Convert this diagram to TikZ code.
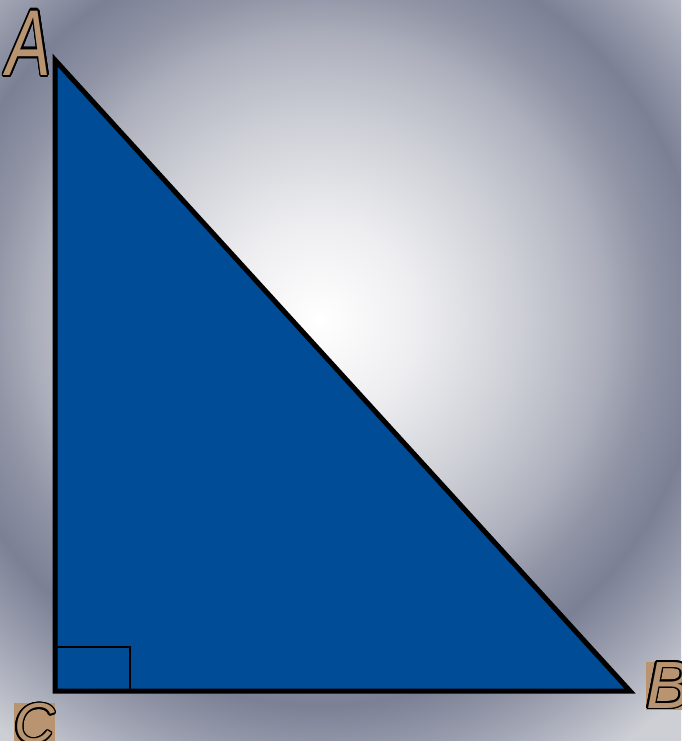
\documentclass[tikz,border=0pt]{standalone}
\usepackage{fontspec}
\usepackage{graphicx}
\usepackage{contour}
\usepackage{tikz}
\usetikzlibrary{positioning,calc}
\newfontfamily\lblfont{Liberation Sans}
\contourlength{0.9pt}

\definecolor{triblue}{HTML}{004C97}
\definecolor{lbltan}{HTML}{B89470}
\definecolor{bgA}{HTML}{EDEDF0}
\definecolor{bgB}{HTML}{CDCFD6}
\definecolor{bgC}{HTML}{AEB1BD}
\definecolor{bgD}{HTML}{9094A5}
\definecolor{bgE}{HTML}{7B8095}
\definecolor{bgF}{HTML}{9A9EAE}
\definecolor{bgG}{HTML}{CDCFD5}
\definecolor{bgH}{HTML}{D4D5DA}
\pgfdeclareradialshading{bgshade}{\pgfpoint{0bp}{0bp}}{%
  color(0bp)=(white); color(5bp)=(bgA); color(10bp)=(bgB);
  color(14bp)=(bgC); color(16.5bp)=(bgD); color(19.25bp)=(bgE);
  color(22bp)=(bgF); color(26bp)=(bgG); color(50bp)=(bgH)}

\tikzset{
  vlabel/.style={inner sep=0pt, font=\lblfont\itshape},
  edge/.style={line width=0.1cm, line join=miter},
}

\begin{document}
\begin{tikzpicture}[x=0.02cm, y=-0.02cm]
    \useasboundingbox (0,0) rectangle (681,741);
    \begin{scope}
      \clip (0,0) rectangle (681,741);
      \shade[shading=bgshade] (-180,-180) rectangle (820,820);
    \end{scope}
    % corners
    \coordinate (pa) at (55,60);
    \coordinate (pc) at (55,691);
    \coordinate (pb) at (630,691);
    \fill[triblue] (pa) -- (pb) -- (pc) -- cycle;
    \draw[line width=0.04cm] (pc) rectangle ++(75,-44);
    \draw[edge] (pa) -- (pb) -- (pc) -- cycle;
    % labels
    \node[vlabel, font=\lblfont\itshape\fontsize{38}{38}\selectfont] (A) at (29,44)
      {\scalebox{1}[1.4]{\contour{black}{\textcolor{lbltan}{A}}}};
    \node[vlabel, fill=lbltan, anchor=west, font=\lblfont\itshape\fontsize{38}{38}\selectfont] (B) at (646,686)
      {\contour{black}{\textcolor{lbltan}{B}}};
    \node[vlabel, fill=lbltan, anchor=north west, font=\lblfont\itshape\fontsize{32}{32}\selectfont] (C) at (14,703)
      {\contour{black}{\textcolor{lbltan}{C}}};
  \end{tikzpicture}
\end{document}
